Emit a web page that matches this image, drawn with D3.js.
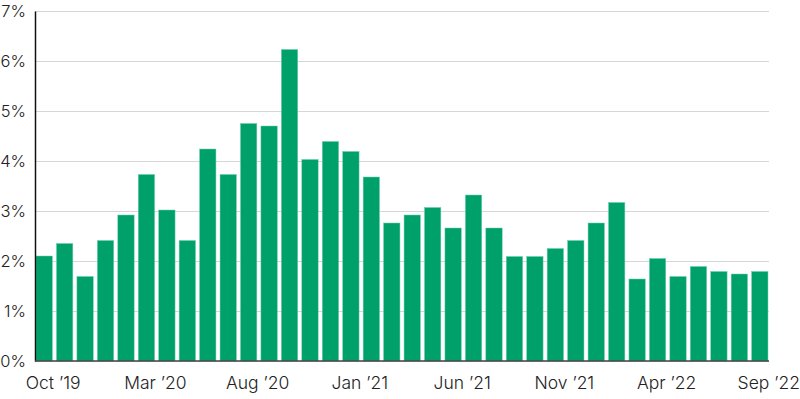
<!DOCTYPE html>
<html>
<head>
<meta charset="utf-8">
<script src="https://cdn.jsdelivr.net/npm/d3@7"></script>
<style>
  html, body { margin: 0; padding: 0; background: #fff; }
  svg { display: block; }
</style>
</head>
<body>
<svg id="chart" width="800" height="399"></svg>
<script>
const months = [
  "Oct ’19","Nov ’19","Dec ’19","Jan ’20","Feb ’20","Mar ’20","Apr ’20","May ’20","Jun ’20","Jul ’20",
  "Aug ’20","Sep ’20","Oct ’20","Nov ’20","Dec ’20","Jan ’21","Feb ’21","Mar ’21","Apr ’21","May ’21",
  "Jun ’21","Jul ’21","Aug ’21","Sep ’21","Oct ’21","Nov ’21","Dec ’21","Jan ’22","Feb ’22","Mar ’22",
  "Apr ’22","May ’22","Jun ’22","Jul ’22","Aug ’22","Sep ’22"
];
const values = [
  2.10, 2.35, 1.69, 2.41, 2.92, 3.73, 3.02, 2.41, 4.24, 3.73,
  4.75, 4.70, 6.23, 4.03, 4.39, 4.19, 3.68, 2.76, 2.92, 3.07,
  2.66, 3.32, 2.66, 2.09, 2.09, 2.25, 2.41, 2.76, 3.17, 1.64,
  2.05, 1.69, 1.89, 1.79, 1.74, 1.79
];
const xTickLabels = ["Oct ’19","Mar ’20","Aug ’20","Jan ’21","Jun ’21","Nov ’21","Apr ’22","Sep ’22"];
const yTicks = [0, 1, 2, 3, 4, 5, 6, 7];

const svg = d3.select("#chart");
const margin = {left: 35, right: 31, top: 11, bottom: 38};
const W = 800, H = 399;
const x = d3.scaleBand().domain(months).range([margin.left, W - margin.right]).paddingInner(0.2).paddingOuter(0.05);
const y = d3.scaleLinear().domain([0, 7]).range([H - margin.bottom, margin.top]);

// gridlines
const grid = svg.append("g")
  .attr("transform", `translate(${margin.left},0)`)
  .call(d3.axisLeft(y).tickValues(yTicks).tickSize(-(W - margin.right - margin.left)).tickFormat(""));
grid.select(".domain").remove();
grid.selectAll("line").attr("stroke", "#d6d6d6").attr("stroke-width", 1);

// bars
svg.append("g").selectAll("rect").data(values).join("rect")
  .attr("x", (d, i) => x(months[i]))
  .attr("y", d => y(d))
  .attr("width", x.bandwidth())
  .attr("height", d => y(0) - y(d))
  .attr("fill", "#00a06b")
  .attr("stroke", "#6fcfa7")
  .attr("stroke-width", 0.5);

function styleText(sel, size) {
  sel.style("font-family", "Inter, 'Noto Sans', sans-serif")
     .style("font-size", size)
     .style("font-weight", "300")
     .style("fill", "#222");
}

// y axis labels
const yAxis = svg.append("g")
  .attr("transform", `translate(${margin.left},0)`)
  .call(d3.axisLeft(y).tickValues(yTicks).tickSize(0).tickPadding(9).tickFormat(d => d + "%"));
yAxis.select(".domain").attr("stroke", "#111").attr("stroke-width", 1.5);
yAxis.selectAll("text").call(styleText, "16.5px");

// x axis
const xAxis = svg.append("g")
  .attr("transform", `translate(0,${y(0)})`)
  .call(d3.axisBottom(x).tickValues(xTickLabels).tickSize(0).tickPadding(16).tickSizeOuter(0));
xAxis.select(".domain").attr("stroke", "#444").attr("stroke-width", 1.5)
  .attr("d", `M${margin.left},0H${W - margin.right}`);
xAxis.selectAll("text").attr("dx", 9).call(styleText, "17.5px");
</script>
</body>
</html>
